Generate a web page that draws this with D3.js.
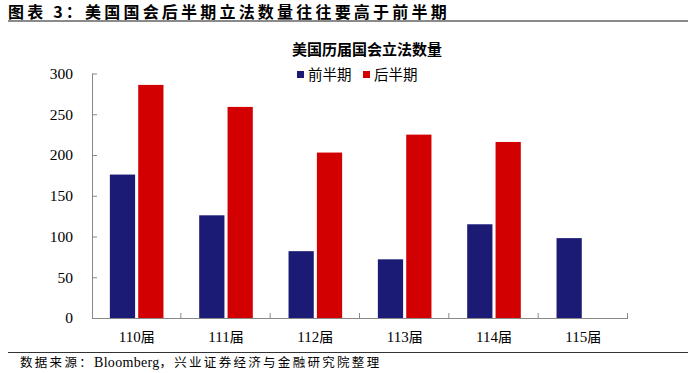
<!DOCTYPE html>
<html><head><meta charset="utf-8">
<script src="https://cdn.jsdelivr.net/npm/d3@7"></script>
<style>body{margin:0;background:#fff}svg{display:block}</style>
</head><body>
<script>
const categories = ["110届","111届","112届","113届","114届","115届"];
const firstHalf = [176,126,82,72,115,98];
const secondHalf = [286,259,203,225,216,null];
const seriesNames = ["前半期","后半期"];
const yTicks = [0,50,100,150,200,250,300];
const pageTitle = "图表 3：美国国会后半期立法数量往往要高于前半期";
const chartTitle = "美国历届国会立法数量";
const sourceNoteParts = ["数据来源：", "Bloomberg", "，兴业证券经济与金融研究院整理"];

(function () {
const W = 688, H = 373;
const colors = ["#1b1a74", "#d20000"];
const svg = d3.select("body").append("svg").attr("width", W).attr("height", H);
const cjk = "'Noto Sans CJK SC','Noto Sans',sans-serif";
const serif = "'Liberation Serif','Times New Roman',serif";

// header
svg.append("text").attr("x", 8).attr("y", 17.5).text(pageTitle)
  .attr("font-family", cjk).attr("font-weight", "bold").attr("font-size", 16)
  .attr("letter-spacing", 3.2).attr("fill", "#000");
svg.append("line").attr("x1", 8).attr("x2", 688).attr("y1", 21).attr("y2", 21)
  .attr("stroke", "#8a8a8a").attr("stroke-width", 2);

// footer
svg.append("line").attr("x1", 8).attr("x2", 688).attr("y1", 352.5).attr("y2", 352.5)
  .attr("stroke", "#333").attr("stroke-width", 1);
const src = svg.append("text").attr("x", 20).attr("y", 367)
  .attr("font-family", cjk).attr("font-size", 12.5).attr("letter-spacing", 2.3).attr("fill", "#000");
src.append("tspan").text(sourceNoteParts[0]);
src.append("tspan").attr("font-family", serif).attr("font-size", 14).attr("letter-spacing", 0.3).text(sourceNoteParts[1]);
src.append("tspan").text(sourceNoteParts[2]);

// chart title
svg.append("text").attr("x", 367).attr("y", 55).attr("text-anchor", "middle").text(chartTitle)
  .attr("font-family", cjk).attr("font-weight", "bold").attr("font-size", 15).attr("fill", "#000");

// legend
const legendX = [297, 363];
seriesNames.forEach((n, i) => {
  svg.append("rect").attr("x", legendX[i]).attr("y", 71).attr("width", 7).attr("height", 7).attr("fill", colors[i]);
  svg.append("text").attr("x", legendX[i] + 11).attr("y", 80).text(n)
    .attr("font-family", cjk).attr("font-size", 14.5).attr("fill", "#000");
});

// scales
const pL = 92, pR = 628, pT = 73.5, pB = 318;
const x0 = d3.scaleBand().domain(categories).range([pL, pR]).padding(0);
const y = d3.scaleLinear().domain([0, 300]).range([pB, pT]);
const bw = x0.bandwidth();
const x1 = d3.scaleBand().domain([0, 1]).range([bw * 0.2, bw * 0.8]).paddingInner(0.11);

// bars
const rows = categories.map((c, i) => ({c, v: [firstHalf[i], secondHalf[i]]}));
const g = svg.append("g");
rows.forEach(r => {
  r.v.forEach((v, k) => {
    if (v == null) return;
    g.append("rect").attr("x", x0(r.c) + x1(k)).attr("y", y(v))
      .attr("width", x1.bandwidth()).attr("height", pB - y(v)).attr("fill", colors[k]);
  });
});

// y axis
const yAxis = d3.axisRight(y).tickValues(yTicks).tickSize(5).tickFormat(d3.format("d"));
const ya = svg.append("g").attr("transform", `translate(${pL},0)`).call(yAxis);
ya.select(".domain").attr("d", `M0.5,${pT}V${pB}`).attr("stroke", "#888");
ya.selectAll(".tick line").attr("stroke", "#888").attr("x1", 0.5);
ya.selectAll(".tick text").attr("x", -19).attr("text-anchor", "end")
  .attr("font-family", serif).attr("font-size", 15.5).attr("fill", "#000");

// x axis
const xa = svg.append("g");
xa.append("line").attr("x1", pL).attr("x2", pR).attr("y1", pB + 0.5).attr("y2", pB + 0.5).attr("stroke", "#888");
const bounds = categories.map(c => x0(c) + bw);
xa.selectAll("line.tk").data(bounds).enter().append("line").attr("class", "tk")
  .attr("x1", d => d - 0.5).attr("x2", d => d - 0.5).attr("y1", pB - 5).attr("y2", pB + 0.5).attr("stroke", "#888");
xa.selectAll("text").data(categories).enter().append("text")
  .attr("x", d => x0(d) + bw / 2).attr("y", 342).attr("text-anchor", "middle")
  .attr("font-family", serif).attr("font-size", 15).attr("fill", "#000")
  .each(function(d) {
    const t = d3.select(this);
    t.append("tspan").text(d.slice(0, 3));
    t.append("tspan").attr("font-family", cjk).attr("font-size", 14).text(d.slice(3));
  });
})();
</script>
</body></html>
